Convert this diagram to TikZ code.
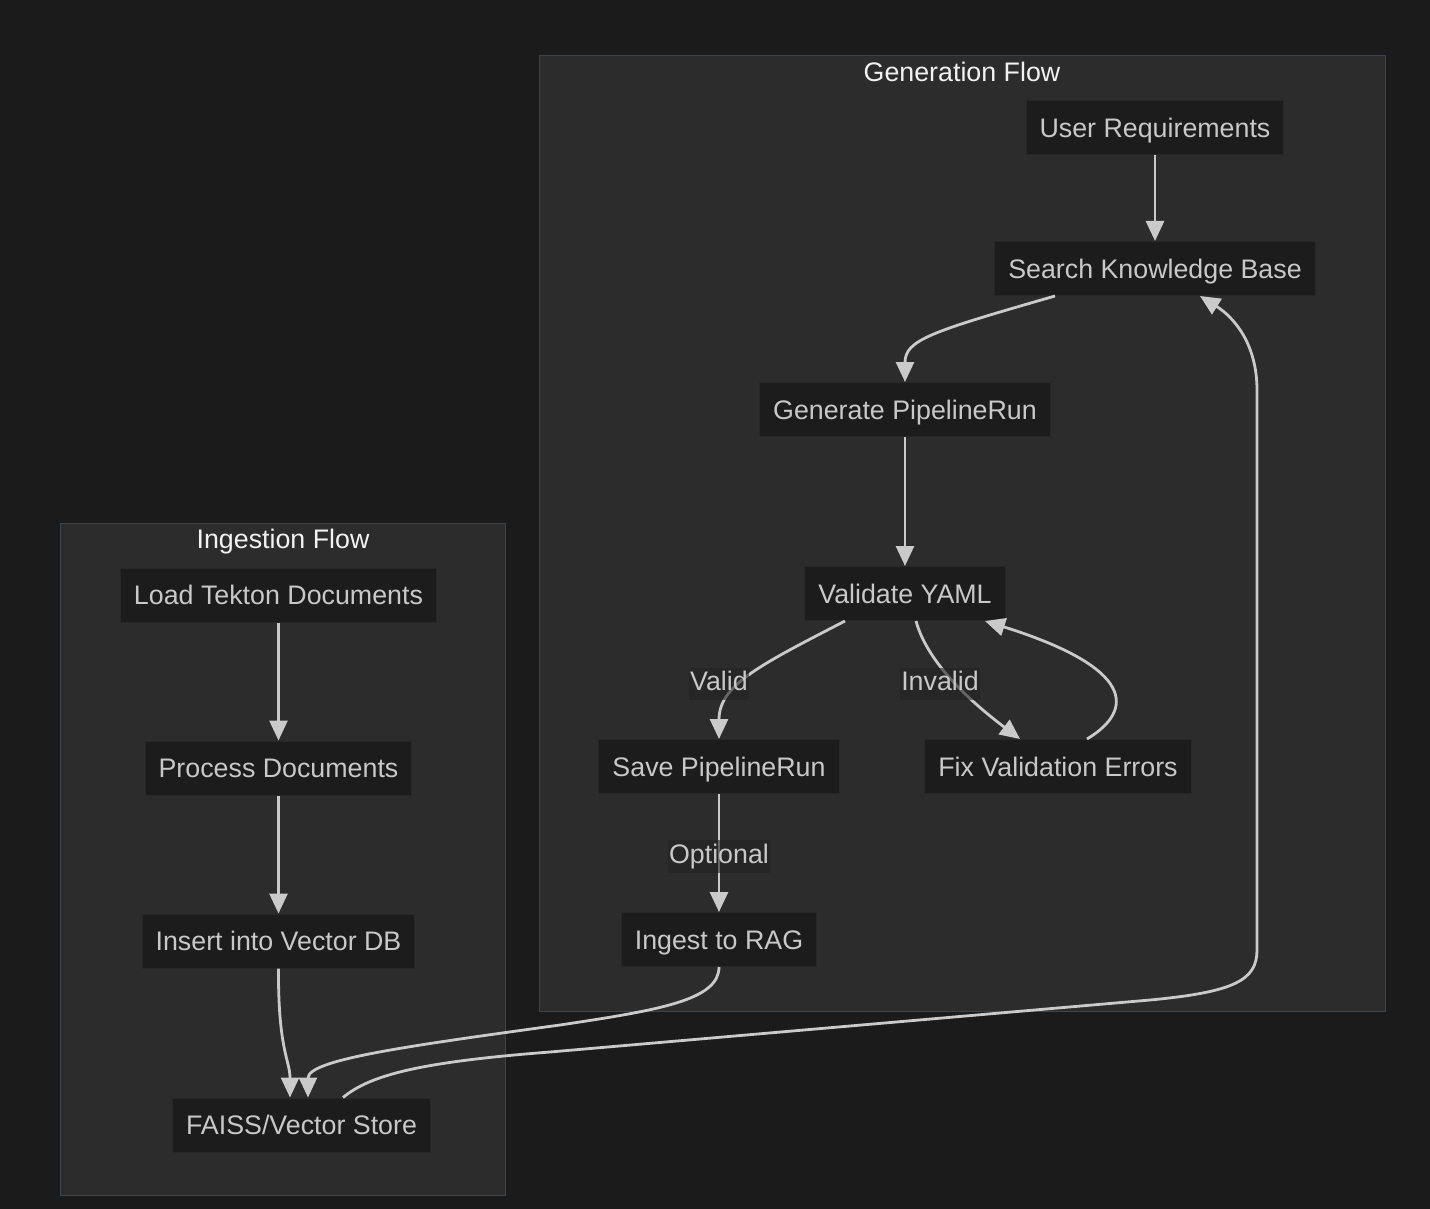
\documentclass[tikz,border=0pt]{standalone}
\usepackage{fontspec}
\setmainfont{Liberation Sans}
\usetikzlibrary{positioning,arrows.meta}

\definecolor{canvas}{HTML}{1B1B1B}
\definecolor{clusterfill}{HTML}{2C2C2C}
\definecolor{clusterline}{HTML}{3C4349}
\definecolor{boxfill}{HTML}{1C1C1C}
\definecolor{boxline}{HTML}{272727}
\definecolor{edgegrey}{HTML}{CACACA}
\definecolor{boxtext}{HTML}{C8C8C8}
\definecolor{titletext}{HTML}{F2F2F2}
\definecolor{labelfill}{HTML}{232323}

\newcommand{\flowfont}{\fontsize{26.8pt}{32pt}\selectfont}

\begin{document}
\begin{tikzpicture}[x=1pt,y=-1pt,
    flowbox/.style={align=center,draw=boxline,line width=1pt,fill=boxfill,text=boxtext,
        inner xsep=13.5pt,inner ysep=0pt,minimum height=54pt,
        text height=19.2pt,text depth=0pt,font=\flowfont},
    cluster/.style={draw=clusterline,line width=1pt,fill=clusterfill},
    clustertitle/.style={text=titletext,inner sep=0pt,text height=19.2pt,text depth=0pt,font=\flowfont},
    edgelabel/.style={fill=labelfill,fill opacity=0.6,text opacity=1,text=boxtext,
        inner xsep=1pt,inner ysep=4pt,text height=19.2pt,text depth=5.6pt,font=\flowfont},
    edge/.style={draw=edgegrey,line width=2.8pt},
    >={Triangle[length=20pt,width=18pt]}]

    % canvas and bounding box
    \fill[canvas] (0,0) rectangle (1430,1209);
    \useasboundingbox (0,0) rectangle (1430,1209);

    % subgraphs
    \draw[cluster] (539,56) rectangle (1385,1011);
    \node[clustertitle] (gentitle) at (962,72) {Generation Flow};
    \draw[cluster] (60,523) rectangle (505,1195);
    \node[clustertitle] (ingtitle) at (283,539) {Ingestion Flow};

    \draw
        node[flowbox] (ureq) at (1155,127.5) {User Requirements}
        node[flowbox,below=86pt of ureq] (search) {Search Knowledge Base}
        node[flowbox,below=86pt of search,xshift=-250pt] (gen) {Generate PipelineRun}
        node[flowbox,below=129pt of gen] (validate) {Validate YAML}
        node[flowbox,below=118pt of validate,xshift=-186pt] (save) {Save PipelineRun}
        node[flowbox,below=118pt of validate,xshift=153pt] (fix) {Fix Validation Errors}
        node[flowbox,below=118pt of save] (ingest) {Ingest to RAG}

        node[flowbox] (load) at (278.5,595) {Load Tekton Documents}
        node[flowbox,below=118pt of load] (proc) {Process Documents}
        node[flowbox,below=118pt of proc] (insert) {Insert into Vector DB}
        node[flowbox,below=129pt of insert,xshift=23pt] (store) {FAISS/Vector Store}
    ;

    \draw[edge,->] (ureq) -- (search);
    \draw[edge,->] ([xshift=-100pt]search.south) .. controls (930,332) and (905,340) .. (gen.north);
    \draw[edge,->] (gen) -- (validate);
    \draw[edge,->] ([xshift=-60pt]validate.south) .. controls (760,665) and (719,685) .. (save.north)
        node[edgelabel] at (719,684) {Valid};
    \draw[edge,->] ([xshift=11pt]validate.south) .. controls (928,665) and (975,705) .. ([xshift=-38pt]fix.north)
        node[edgelabel] at (940,684) {Invalid};
    \draw[edge,->] ([xshift=29pt]fix.north) .. controls (1135,710) and (1135,668) .. ([xshift=80pt]validate.south);
    \draw[edge,->] (save) -- (ingest) node[edgelabel,midway,yshift=-3.5pt] {Optional};
    \draw[edge,->] (ingest.south) .. controls (719,1000) and (660,1010) .. (560,1025)
        .. controls (400,1047) and (308,1060) .. ([xshift=6.5pt]store.north);

    \draw[edge,->] (load) -- (proc);
    \draw[edge,->] (proc) -- (insert);
    \draw[edge,->] (insert.south) .. controls (278,1050) and (290,1060) .. ([xshift=-11.5pt]store.north);
    \draw[edge,->] ([xshift=41.5pt]store.north) .. controls (370,1075) and (420,1062) .. (550,1052)
        -- (1150,1000) .. controls (1235,992) and (1257,980) .. (1257,950)
        -- (1257,390) .. controls (1257,345) and (1235,318) .. ([xshift=45pt]search.south);
\end{tikzpicture}
\end{document}
